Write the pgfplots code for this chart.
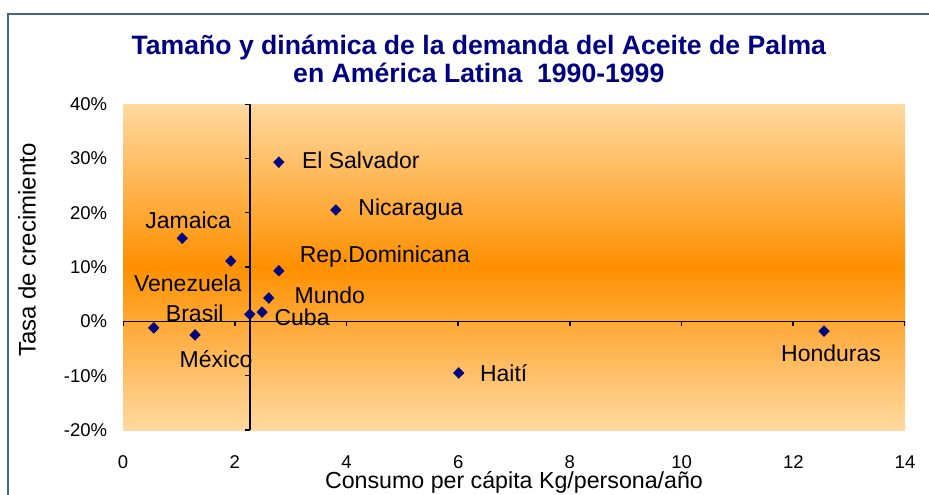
\documentclass[border=0pt]{standalone}
\usepackage{fontspec}
\setmainfont{Liberation Sans}
\usepackage{pgfplots}
\usepackage{pgfplotstable}
\pgfplotsset{compat=1.18}

\definecolor{navy}{HTML}{000080}
\definecolor{frameblue}{HTML}{3E6593}
\definecolor{peach}{HTML}{FFD9A0}
\definecolor{deeporange}{HTML}{FF9000}

% x = kg/persona/año, y = tasa de crecimiento (%), dx/dy = desplazamiento de la etiqueta (pt)
\pgfplotstableread[col sep=comma]{
x,y,dx,dy,label
2.79,29.3,41,1,El Salvador
3.81,20.5,37.5,0,Nicaragua
1.06,15.3,3,9,Jamaica
1.93,11.1,-21.5,-11,Venezuela
2.79,9.3,53,7,Rep.Dominicana
2.61,4.3,30.5,1.5,Mundo
2.49,1.7,20,-2.5,Cuba
0.55,-1.2,20.5,7.5,Brasil
1.29,-2.5,10.5,-12,México
6.01,-9.5,22.5,0,Haití
12.55,-1.8,3.5,-11,Honduras
}\paises

\begin{document}
\begin{tikzpicture}
\begin{axis}[
    at={(0,0)}, anchor=south west,
    scale only axis,
    width=391pt, height=163pt,
    xmin=0, xmax=14,
    ymin=-20, ymax=40,
    xtick={0,2,...,14},
    ytick={-20,-10,...,40},
    yticklabels={-20\%,-10\%,0\%,10\%,20\%,30\%,40\%},
    /pgf/number format/assume math mode=true,
    axis line style={draw=none},
    tick style={draw=none},
    tick label style={font=\fontsize{9.25}{11}\selectfont},
    yticklabel style={xshift=-4.4pt},
    xticklabel style={yshift=-9.2pt},
    axis background/.style={top color=peach, bottom color=peach, middle color=deeporange},
    title={Tamaño y dinámica de la demanda del Aceite de Palma\\en América Latina\ \ 1990-1999},
    title style={at={(axis description cs:0.455,1.101)}, anchor=center, align=center,
        font=\fontsize{13.3}{14}\selectfont\bfseries, text=navy},
    xlabel={Consumo per cápita Kg/persona/año},
    xlabel style={at={(axis description cs:0.5,-0.162)}, anchor=center,
        font=\fontsize{11.6}{14}\selectfont},
    ylabel={Tasa de crecimiento},
    ylabel style={at={(axis description cs:-0.1228,0.552)}, anchor=center,
        font=\fontsize{12}{14}\selectfont},
]
% ejes que se cruzan dentro del area
\draw[line width=0.8pt] (axis cs:0,0) -- (axis cs:14,0);
\draw[line width=0.8pt] (axis cs:2.27,-20) -- (axis cs:2.27,40);
\pgfplotsinvokeforeach{0,2,...,14}{\draw[line width=0.8pt] (axis cs:#1,0) -- ++(0pt,-2.2pt);}
\pgfplotsinvokeforeach{-20,-10,...,40}{\draw[line width=0.8pt] (axis cs:2.27,#1) -- ++(-2.2pt,0pt);}

\addplot[only marks, mark=diamond*, mark size=2.6pt, mark options={xscale=1.3}, color=navy,
    visualization depends on={\thisrow{dx} \as \dx},
    visualization depends on={\thisrow{dy} \as \dy},
    point meta=explicit symbolic,
    nodes near coords,
    every node near coord/.append style={anchor=center, xshift=\dx pt, yshift=\dy pt,
        text=black, font=\fontsize{11.5}{13}\selectfont},
] table[x=x, y=y, meta=label] {\paises};

% punto sin etiqueta
\addplot[only marks, mark=diamond*, mark size=2.6pt, mark options={xscale=1.3}, color=navy]
    coordinates {(2.27,1.3)};
\end{axis}
\draw[frameblue, line width=1pt] (-57.5pt,-40pt) -- (-57.5pt,208pt) -- (410pt,208pt);
\pgfresetboundingbox
\useasboundingbox (-61.5pt,-32pt) rectangle (403pt,215pt);
\end{tikzpicture}
\end{document}
